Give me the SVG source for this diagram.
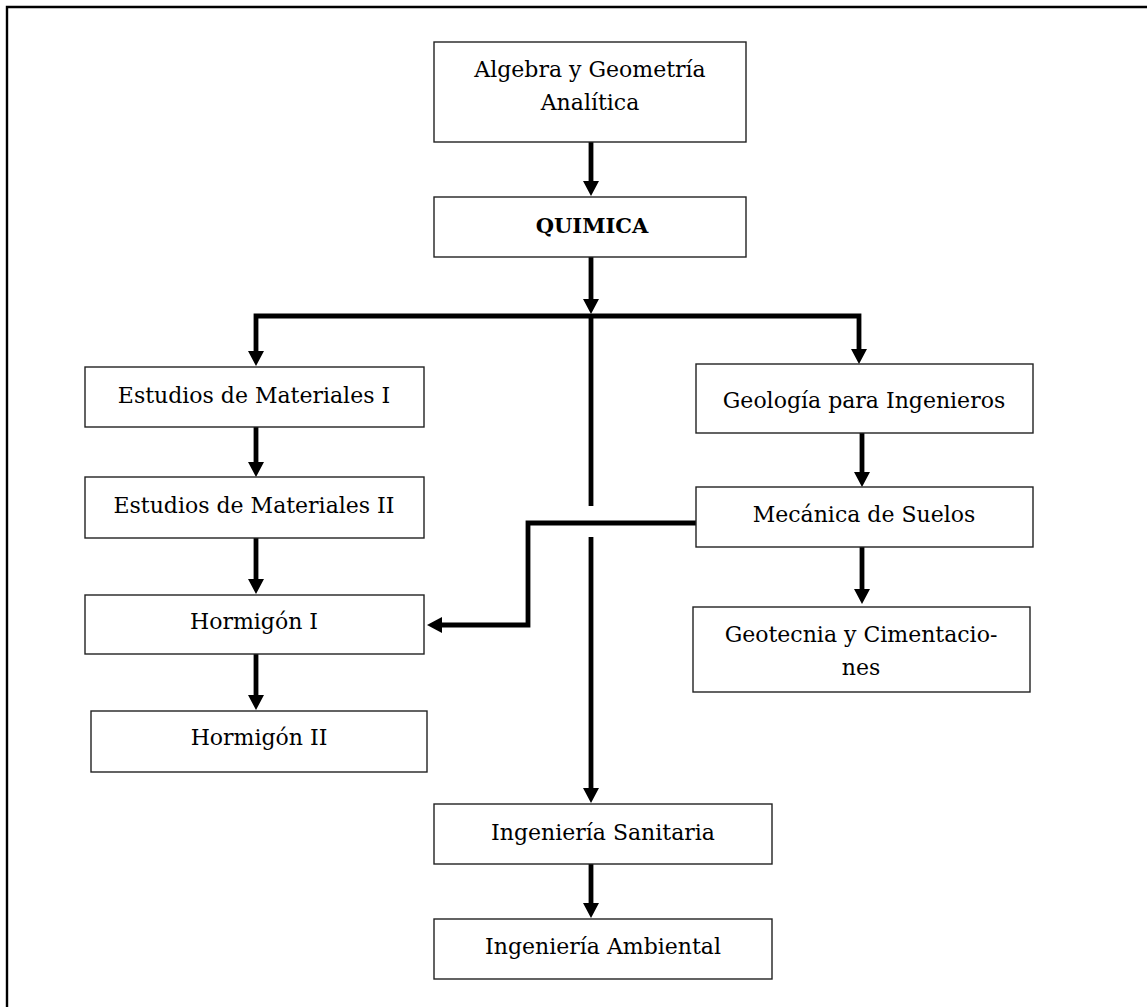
<svg xmlns="http://www.w3.org/2000/svg" width="1147" height="1007" viewBox="0 0 1147 1007">
<style>
.box{fill:#fff;stroke:#222;stroke-width:1.4}
.t{font-family:"DejaVu Serif","Liberation Serif",serif;font-size:22px;fill:#000;text-anchor:middle}
.b{font-weight:bold;font-size:21px}
.c{fill:none;stroke:#000;stroke-width:4.8;stroke-linejoin:miter}
.frame{fill:none;stroke:#000;stroke-width:2.4}
</style>
<defs>
<marker id="ah" viewBox="0 0 15 16" refX="1" refY="8" markerWidth="15" markerHeight="16" markerUnits="userSpaceOnUse" orient="auto">
<path d="M0,0 L15,8 L0,16 z" fill="#000"/>
</marker>
</defs>
<rect width="1147" height="1007" fill="#fff"/>
<path class="frame" d="M7,1007 V7 H1147"/>

<g id="connectors">
<path class="c" d="M591,142 V182" marker-end="url(#ah)"/>
<path class="c" d="M591,257 V300" marker-end="url(#ah)"/>
<path class="c" d="M591,316 H256 V352" marker-end="url(#ah)"/>
<path class="c" d="M591,316 H859 V350" marker-end="url(#ah)"/>
<path class="c" d="M591,316 V506"/>
<path class="c" d="M591,537 V789" marker-end="url(#ah)"/>
<path class="c" d="M256,427 V463" marker-end="url(#ah)"/>
<path class="c" d="M256,538 V580" marker-end="url(#ah)"/>
<path class="c" d="M256,654 V696" marker-end="url(#ah)"/>
<path class="c" d="M862,433 V473" marker-end="url(#ah)"/>
<path class="c" d="M862,547 V590" marker-end="url(#ah)"/>
<path class="c" d="M696,523 H528 V625 H441" marker-end="url(#ah)"/>
<path class="c" d="M591,864 V904" marker-end="url(#ah)"/>
</g>

<g id="algebra">
<rect class="box" x="434" y="42" width="312" height="100"/>
<text class="t" x="590" y="77">Algebra y Geometría</text>
<text class="t" x="590" y="110">Analítica</text>
</g>
<g id="quimica">
<rect class="box" x="434" y="197" width="312" height="60"/>
<text class="t b" x="592" y="233">QUIMICA</text>
</g>
<g id="est-mat-1">
<rect class="box" x="85" y="367" width="339" height="60"/>
<text class="t" x="254" y="403">Estudios de Materiales I</text>
</g>
<g id="est-mat-2">
<rect class="box" x="85" y="477" width="339" height="61"/>
<text class="t" x="254" y="513">Estudios de Materiales II</text>
</g>
<g id="hormigon-1">
<rect class="box" x="85" y="595" width="339" height="59"/>
<text class="t" x="254" y="629">Hormigón I</text>
</g>
<g id="hormigon-2">
<rect class="box" x="91" y="711" width="336" height="61"/>
<text class="t" x="259" y="745">Hormigón II</text>
</g>
<g id="geologia">
<rect class="box" x="696" y="364" width="337" height="69"/>
<text class="t" x="864" y="408">Geología para Ingenieros</text>
</g>
<g id="mecanica">
<rect class="box" x="696" y="487" width="337" height="60"/>
<text class="t" x="864" y="522">Mecánica de Suelos</text>
</g>
<g id="geotecnia">
<rect class="box" x="693" y="607" width="337" height="85"/>
<text class="t" x="861" y="642">Geotecnia y Cimentacio-</text>
<text class="t" x="861" y="675">nes</text>
</g>
<g id="ing-sanitaria">
<rect class="box" x="434" y="804" width="338" height="60"/>
<text class="t" x="603" y="840">Ingeniería Sanitaria</text>
</g>
<g id="ing-ambiental">
<rect class="box" x="434" y="919" width="338" height="60"/>
<text class="t" x="603" y="954">Ingeniería Ambiental</text>
</g>
</svg>
